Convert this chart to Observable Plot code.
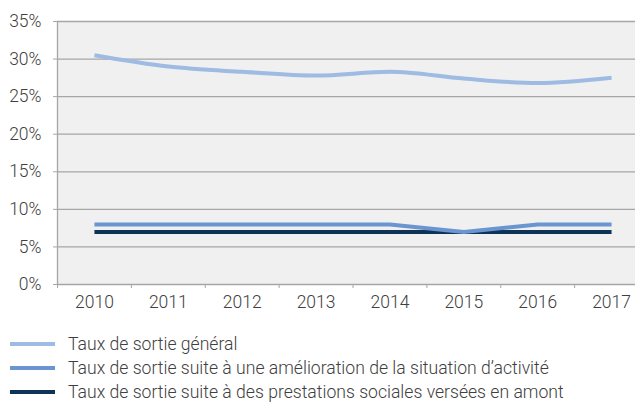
<!DOCTYPE html>
<html>
<head>
<meta charset="utf-8">
<script src="https://cdn.jsdelivr.net/npm/d3@7"></script>
<script src="https://cdn.jsdelivr.net/npm/@observablehq/plot@0.6"></script>
<style>
  body { margin: 0; background: #fff; font-family: Roboto, "Liberation Sans", sans-serif; font-weight: 300; }
  #chart svg { display: block; }
  .legend { margin-top: 14px; }
  .row { display: flex; align-items: center; height: 24px; }
  .sw { width: 45px; height: 4px; margin-left: 10px; margin-right: 13px; flex: none; }
  .lab { font-size: 17.6px; color: #404040; font-weight: 300; white-space: nowrap; }
</style>
</head>
<body>
<div id="chart"></div>
<div class="legend" id="legend"></div>
<script>
const years = [2010, 2011, 2012, 2013, 2014, 2015, 2016, 2017];
const seriesNames = [
  "Taux de sortie général",
  "Taux de sortie suite à une amélioration de la situation d’activité",
  "Taux de sortie suite à des prestations sociales versées en amont"
];
const general = [30.5, 29.0, 28.3, 27.8, 28.3, 27.4, 26.8, 27.5];
const activite = [8, 8, 8, 8, 8, 7, 8, 8];
const prestations = [7, 7, 7, 7, 7, 7, 7, 7];
const yTicks = [0, 5, 10, 15, 20, 25, 30, 35];
const colors = ["#9dbbe3", "#6a95d0", "#0d3457"];

const rows = (vals, s) => years.map((y, i) => ({year: y, value: vals[i], series: s}));
const dGen = rows(general, seriesNames[0]);
const dAct = rows(activite, seriesNames[1]);
const dPre = rows(prestations, seriesNames[2]);
const bounds = years.map(y => y - 0.5).concat([years[years.length - 1] + 0.5]);

const chart = Plot.plot({
  width: 635,
  height: 318,
  marginLeft: 57,
  marginRight: -13,
  marginTop: 21,
  marginBottom: 34,
  style: {fontFamily: "Roboto, 'Liberation Sans', sans-serif", fontSize: "17px", fontWeight: 300, color: "#404040", background: "#fff", overflow: "hidden"},
  x: {type: "linear", domain: [bounds[0], bounds[bounds.length - 1]]},
  y: {domain: [0, 35]},
  marks: [
    Plot.frame({fill: "#f0f0f0", stroke: null}),
    Plot.ruleY(yTicks.slice(1), {stroke: "#a6a6a6", strokeWidth: 1.3}),
    Plot.ruleX([bounds[0]], {stroke: "#a6a6a6", strokeWidth: 1.3}),
    Plot.ruleY([0], {stroke: "#a6a6a6", strokeWidth: 1.3}),
    Plot.axisY({ticks: yTicks, tickFormat: d => d + "%", tickSize: 4, tickPadding: 12, stroke: "#a6a6a6", fill: "#404040", label: null, fontSize: 17.5}),
    Plot.axisX({ticks: bounds, tickFormat: () => "", tickSize: 4, stroke: "#a6a6a6", label: null}),
    Plot.axisX({ticks: years, tickFormat: d => String(d), tickSize: 0, tickPadding: 11, fill: "#404040", label: null, fontSize: 17.5}),
    Plot.line(dPre, {x: "year", y: "value", stroke: colors[2], strokeWidth: 4, strokeLinecap: "butt"}),
    Plot.line(dAct, {x: "year", y: "value", stroke: colors[1], strokeWidth: 4, strokeLinecap: "butt"}),
    Plot.line(dGen, {x: "year", y: "value", stroke: colors[0], strokeWidth: 4, strokeLinecap: "butt", curve: "monotone-x"})
  ]
});
document.getElementById("chart").appendChild(chart);

const legend = document.getElementById("legend");
seriesNames.forEach((name, i) => {
  const row = document.createElement("div");
  row.className = "row";
  const sw = document.createElement("div");
  sw.className = "sw";
  sw.style.background = colors[i];
  const lab = document.createElement("span");
  lab.className = "lab";
  lab.textContent = name;
  row.appendChild(sw);
  row.appendChild(lab);
  legend.appendChild(row);
});
</script>
</body>
</html>
